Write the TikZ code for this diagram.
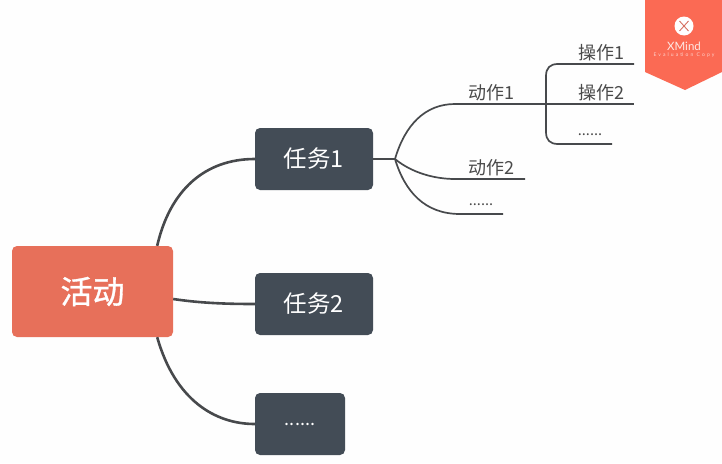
\documentclass[tikz,border=0pt]{standalone}
\usepackage{fontspec}
\setmainfont{Noto Sans CJK SC}
\newfontfamily\latinfont{Lato}
\newfontfamily\rootfont[FakeBold=1]{Noto Sans CJK SC}
\usetikzlibrary{positioning,calc}
\definecolor{coral}{HTML}{E7705A}
\definecolor{ribbon}{HTML}{FB6A54}
\definecolor{slate}{HTML}{434C56}
\definecolor{wire}{HTML}{47494C}
\definecolor{label}{HTML}{4A4A4A}
\definecolor{paper}{HTML}{FEFEFE}

\begin{document}
\begin{tikzpicture}[x=1pt, y=-1pt,
      rootbox/.style={fill=coral, rounded corners=5pt, text=white, inner sep=0pt,
                  minimum width=161pt, minimum height=91pt, font=\rootfont\fontsize{32}{32}\selectfont},
      taskbox/.style={fill=slate, rounded corners=5pt, text=white, inner sep=0pt,
                  minimum width=118pt, minimum height=62pt, font=\fontsize{23.5}{23.5}\selectfont},
      leaf/.style={text=label, inner sep=0pt, font=\fontsize{18}{18}\selectfont},
      dotleaf/.style={text=label, inner sep=0pt, font=\fontsize{14.5}{14.5}\selectfont},
      link/.style={draw=wire, line width=2.6pt},
      sublink/.style={draw=wire, line width=1.7pt},
    ]
      \useasboundingbox[fill=paper] (0,0) rectangle (722,463);

      % main topics
      \node[rootbox] (root) at (92.5,291.5) {\raisebox{-1.5pt}{活动}};
      \node[taskbox] (task1) at (314,159) {\raisebox{-1.5pt}{任务1}};
      \node[taskbox] (task2) at (314,304) {\raisebox{-1.5pt}{任务2}};
      \node[taskbox, minimum width=90pt, font=\fontsize{18}{18}\selectfont] (task3) at (300,424) {\raisebox{-1pt}{......}};

      \draw[link] ($(root.north east)+(-16,0)$) .. controls (170,190) and (205,159) .. (task1.west);
      \draw[link] ($(root.east)+(0,7.5)$) .. controls (200,303) and (225,304) .. (task2.west);
      \draw[link] ($(root.south east)+(-16,0)$) .. controls (175,400) and (215,424) .. (task3.west);

      % second level
      \node[leaf] (act1) at (491.5,93) {动作1};
      \node[leaf] (act2) at (491.5,168) {动作2};
      \node[dotleaf] (act3) at (481,205) {......};
      \coordinate (fork) at (395,159);
      \coordinate (spine) at (546,104);
      \coordinate (act2end) at (525,179);
      \coordinate (act3end) at (503,214);

      \draw[sublink] (task1.east) -- (fork);
      \draw[sublink] (fork) .. controls (405,125) and (425,104) .. (455,104) -- (spine);
      \draw[sublink] (fork) .. controls (412,173) and (435,179) .. (455,179) -- (act2end);
      \draw[sublink] (fork) .. controls (405,192) and (425,214) .. (460,214) -- (act3end);

      % third level
      \node[leaf] (op1) at (601,53) {操作1};
      \node[leaf] (op2) at (601,93) {操作2};
      \node[dotleaf] (op3) at (590,135) {......};
      \coordinate (op1end) at (634,64);
      \coordinate (op2end) at (634,104);
      \coordinate (op3end) at (612,144);

      \draw[sublink] (spine) -- (546,76) .. controls (546,68) and (550,64) .. (558,64) -- (op1end);
      \draw[sublink] (spine) -- (op2end);
      \draw[sublink] (spine) -- (546,132) .. controls (546,140) and (550,144) .. (558,144) -- (op3end);
      \draw[wire, line width=2.4pt] (525,104) -- (spine);

      % evaluation ribbon
      \fill[ribbon] (645,0) -- (722,0) -- (722,72) -- (685,90) -- (645,72) -- cycle;
      \node[circle, fill=white, minimum size=19pt, inner sep=0pt] (badge) at (684,26) {};
      \draw[ribbon!70!gray, line width=0.9pt] ($(badge)+(-4.5,-5)$) -- ($(badge)+(4.5,5)$)
        ($(badge)+(4.5,-5)$) -- ($(badge)+(-4.5,5)$);
      \node[text=white!85!ribbon, inner sep=0pt, font=\latinfont\fontsize{11.5}{11.5}\selectfont] (brand) at (684,46) {XMind};
      \node[text=white!70!ribbon, inner sep=0pt, font=\latinfont\fontsize{5}{5}\selectfont] (copy) at (684,55) {\addfontfeature{LetterSpace=42}Evaluation Copy};
    \end{tikzpicture}
\end{document}
